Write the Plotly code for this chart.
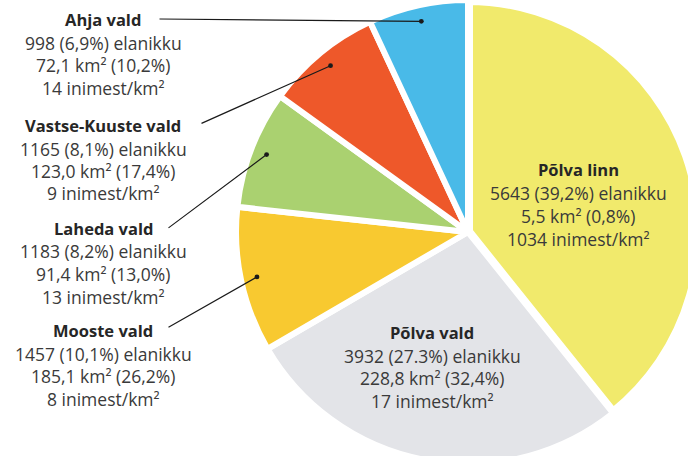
import math
import plotly.graph_objects as go

# ---- data ----
names = ["Põlva linn", "Põlva vald", "Mooste vald", "Laheda vald", "Vastse-Kuuste vald", "Ahja vald"]
population = [5643, 3932, 1457, 1183, 1165, 998]
pop_share = ["39,2%", "27.3%", "10,1%", "8,2%", "8,1%", "6,9%"]
area_km2 = ["5,5", "228,8", "185,1", "91,4", "123,0", "72,1"]
area_share = ["0,8%", "32,4%", "26,2%", "13,0%", "17,4%", "10,2%"]
density = [1034, 17, 8, 13, 9, 14]
colors = ["#F1EA6C", "#E3E4E8", "#F8C930", "#AAD170", "#EE582A", "#49BAE8"]

# figure is a bit larger than the 688x456 window; the pie is cut by the window edges
W, H = 712, 472
CX, CY, R = 468, 232, 232           # pie centre / radius in pixels
border = [10, 6, 6, 6, 6, 6]

fig = go.Figure(go.Pie(
    labels=names, values=population, sort=False, direction="clockwise", rotation=0,
    marker=dict(colors=colors, line=dict(color="white", width=border)),
    textinfo="none", hoverinfo="label+value",
    domain=dict(x=[(CX - R) / W, (CX + R) / W], y=[1 - (CY + R) / H, 1 - (CY - R) / H]),
    showlegend=False,
))

TXT = "#3a3a3a"
FONT = "Open Sans"
REG = 17.5
BOLD = 16.5

def lines_for(i):
    return [
        f"<b>{names[i]}</b>",
        f"{population[i]} ({pop_share[i]}) elanikku",
        f"{area_km2[i]} km² ({area_share[i]})",
        f"{density[i]} inimest/km²",
    ]

# block placement (center x, title y) in pixels
blocks = {
    0: (578, 170),
    1: (432, 332),
    5: (103, 19),
    4: (103, 125),
    3: (103, 228),
    2: (103, 330),
}
offsets = [0, 23.5, 46, 68.5]

annotations = []
for i, (bx, by) in blocks.items():
    for k, t in enumerate(lines_for(i)):
        annotations.append(dict(
            x=bx / W, y=1 - (by + offsets[k]) / H, xref="paper", yref="paper",
            text=t, showarrow=False, xanchor="center", yanchor="middle",
            font=dict(family=FONT, size=BOLD if k == 0 else REG,
                      color="#262626" if k == 0 else TXT),
        ))

# leader lines: from right of each left-side title to a dot inside its slice
total = sum(population)
cum = 0
mid_angles = []
for v in population:
    mid_angles.append((cum + v / 2) / total * 360)
    cum += v

tails = {5: (158, 19), 4: (200, 124), 3: (167, 229), 2: (167, 328)}
for i, (tx, ty) in tails.items():
    th = math.radians(mid_angles[i])
    rho = 0.93 * R
    hx = CX + rho * math.sin(th)
    hy = CY - rho * math.cos(th)
    annotations.append(dict(
        x=hx / W, y=1 - hy / H, xref="paper", yref="paper", text="",
        showarrow=True, arrowhead=6, arrowsize=1.0, arrowwidth=1.2,
        arrowcolor="#1a1a1a", ax=tx - hx, ay=ty - hy, standoff=0,
    ))

fig.update_layout(
    width=W, height=H, margin=dict(l=0, r=0, t=0, b=0),
    paper_bgcolor="white", plot_bgcolor="white",
    annotations=annotations,
)

fig.write_html(
    "out.html",
    config={"displayModeBar": False},
    post_script=(
        "document.body.style.margin='0';"
        "document.body.style.overflow='hidden';"
        "document.documentElement.style.overflow='hidden';"
    ),
)
